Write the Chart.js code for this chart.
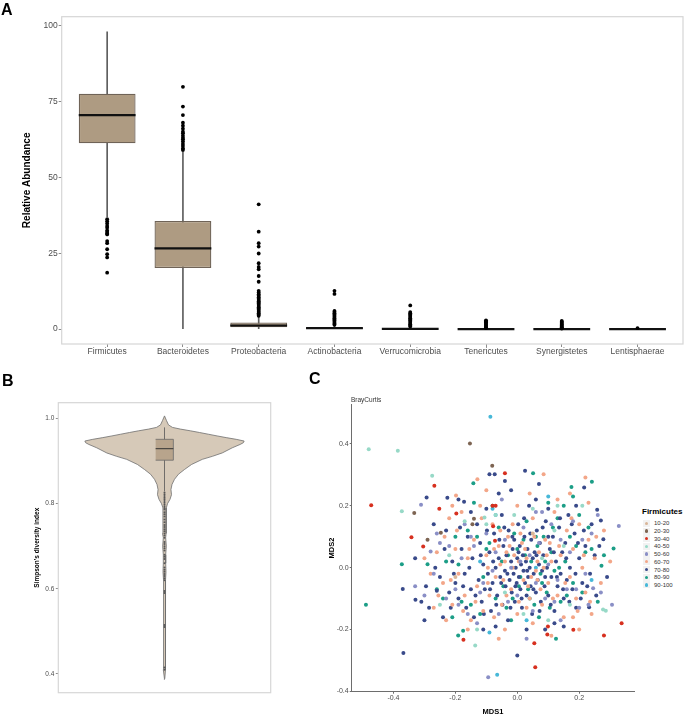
<!DOCTYPE html>
<html><head><meta charset="utf-8">
<script src="https://cdn.jsdelivr.net/npm/chart.js@4.4.1/dist/chart.umd.min.js"></script>
<style>
html,body{margin:0;padding:0;background:#fff;width:685px;height:715px;overflow:hidden;font-family:"Liberation Sans",Arial,sans-serif;}
canvas{position:absolute;}
.abs{position:absolute;white-space:nowrap;}
.letter{font-weight:bold;font-size:16px;line-height:16px;color:#000;}
</style></head><body>
<canvas id="cA" width="685" height="362" style="left:0;top:0"></canvas>
<canvas id="cB" width="300" height="320" style="left:0;top:390px"></canvas>
<canvas id="cC" width="335" height="330" style="left:300px;top:390px"></canvas>
<div class="abs letter" style="left:1px;top:2px">A</div>
<div class="abs letter" style="left:2px;top:373px">B</div>
<div class="abs letter" style="left:309px;top:371px">C</div>
<div class="abs" style="left:351px;top:395.5px;font-size:6.5px;line-height:7px;color:#333">BrayCurtis</div>
<div id="legC"></div>
<script>
// ---------------- Panel A data ----------------
const phylaA = ['Firmicutes','Bacteroidetes','Proteobacteria','Actinobacteria','Verrucomicrobia','Tenericutes','Synergistetes','Lentisphaerae'];
const q1A = [61.2, 20.1, 0.6, 0.05, 0, 0, 0, 0];
const medA = [70.5, 26.6, 1.2, 0.3, 0.05, 0.02, 0.01, 0];
const q3A = [77.5, 35.6, 2.2, 0.55, 0.25, 0.05, 0.04, 0.01];
const whiskLoA = [37, 0, 0, 0, 0, 0, 0, 0];
const whiskHiA = [97.9, 58.3, 4.2, 1.2, 0.6, 0.1, 0.1, 0.02];
const outFirmicutes = [36.2, 35.5, 34.8, 34, 33.4, 32.5, 32, 31.5, 31.2, 29, 28.3, 26.3, 24.7, 23.6, 18.6];
const outBacteroidetes = [79.8, 73.3, 70.5, 68, 67, 66, 65, 64.5, 63.7, 63, 62.5, 61.8, 61, 60.3, 59.5, 59];
const outProteobacteria = [41.1, 32.1, 28.3, 27.2, 24.9, 21.7, 20.5, 19.7, 17.5, 15.6, 12.6, 12.1, 11.5, 11, 10.5, 10, 9.6, 9.2, 8.8, 8.4, 8, 7.6, 7.2, 6.8, 6.4, 6, 5.6, 5.2, 4.8, 4.4];
const outActinobacteria = [12.6, 11.6, 6, 5.6, 5.2, 4.8, 4.4, 4, 3.6, 3.2, 2.8, 2.4, 2, 1.7, 1.4];
const outVerrucomicrobia = [7.8, 5.6, 5.2, 4.8, 4.4, 4.0, 3.6, 3.2, 2.8, 2.4, 2.0, 1.6, 1.2, 0.9];
const outTenericutes = [2.9, 2.6, 2.3, 2.0, 1.7, 1.4, 1.1, 0.8, 0.5, 0.3];
const outSynergistetes = [2.7, 2.4, 2.1, 1.8, 1.5, 1.2, 0.9, 0.6, 0.35, 0.2];
const outLentisphaerae = [0.3];
const outliersA = [outFirmicutes, outBacteroidetes, outProteobacteria, outActinobacteria, outVerrucomicrobia, outTenericutes, outSynergistetes, outLentisphaerae];
const yTicksA = [0, 25, 50, 75, 100];

// ---------------- Panel B data ----------------
const violinY = [1.006, 0.995, 0.985, 0.979, 0.975, 0.971, 0.967, 0.963, 0.959, 0.955, 0.951, 0.947, 0.943, 0.939, 0.931, 0.919, 0.911, 0.904, 0.892, 0.88, 0.869, 0.857, 0.845, 0.833, 0.821, 0.81, 0.80, 0.79, 0.78, 0.76, 0.74, 0.73, 0.72, 0.70, 0.68, 0.66, 0.64, 0.62, 0.59, 0.55, 0.51, 0.47, 0.41, 0.39, 0.387];
const violinDensity = [0, 0.025, 0.05, 0.1, 0.2, 0.325, 0.44, 0.55, 0.66, 0.775, 0.9, 1, 0.99, 0.95, 0.85, 0.725, 0.6, 0.475, 0.34, 0.25, 0.175, 0.125, 0.094, 0.081, 0.088, 0.069, 0.038, 0.023, 0.019, 0.019, 0.019, 0.025, 0.015, 0.023, 0.015, 0.015, 0.019, 0.013, 0.015, 0.01, 0.015, 0.008, 0.015, 0.004, 0];
const boxStatsB = {q1: 0.902, median: 0.929, q3: 0.951, whiskLo: 0.829, whiskHi: 0.979};
const outB = [0.826, 0.822, 0.818, 0.814, 0.81, 0.806, 0.802, 0.798, 0.794, 0.79, 0.786, 0.78, 0.775, 0.77, 0.763, 0.756, 0.75, 0.745, 0.74, 0.735, 0.73, 0.725, 0.72, 0.71, 0.705, 0.70, 0.695, 0.69, 0.68, 0.675, 0.67, 0.66, 0.65, 0.645, 0.64, 0.635, 0.63, 0.625, 0.62, 0.595, 0.59, 0.515, 0.51, 0.415, 0.41];
const yTicksB = [0.4, 0.6, 0.8, 1.0];

// ---------------- Panel C data ----------------
const binLabels = ['10-20','20-30','30-40','40-50','50-60','60-70','70-80','80-90','90-100'];
const pts10_20 = [[-0.2,-0.03],[0.05,0.11]];
const pts20_30 = [[-0.153,0.401],[-0.081,0.329],[-0.333,0.177],[-0.247,0.113],[-0.29,0.09],[-0.145,0.14],[-0.14,0.158]];
const pts30_40 = [[-0.04,0.305],[-0.268,0.265],[-0.472,0.202],[-0.252,0.19],[-0.197,0.175],[-0.342,0.098],[-0.304,0.068],[-0.174,-0.233],[0.055,-0.244],[0.058,-0.322],[0.099,-0.19],[0.097,-0.216],[0.181,-0.201],[0.28,-0.219],[0.337,-0.18],[-0.08,0.2],[-0.07,0.2],[-0.078,0.134],[-0.072,0.087]];
const pts40_50 = [[-0.48,0.383],[-0.386,0.378],[-0.275,0.297],[-0.373,0.182],[-0.136,-0.252],[0.277,-0.135],[0.286,-0.139],[-0.106,0.162],[-0.25,-0.12],[-0.22,0.04],[-0.17,0.15],[-0.13,-0.2],[-0.1,0.14],[-0.07,0.17],[-0.04,-0.08],[-0.01,0.17],[0.02,-0.15],[0.05,0.19],[0.08,0.03],[0.1,-0.17],[0.12,0.12],[0.15,0.07],[0.17,-0.12],[0.21,0.2],[0.13,0.2]];
const pts50_60 = [[-0.311,0.203],[-0.28,0.052],[-0.094,-0.354],[0.328,0.135],[0.306,-0.12],[0.245,-0.067],[-0.33,-0.06],[-0.3,-0.09],[-0.27,-0.02],[-0.25,0.08],[-0.23,-0.1],[-0.2,-0.07],[-0.18,0.03],[-0.16,-0.15],[-0.14,0.07],[-0.12,-0.08],[-0.1,0.11],[-0.08,-0.01],[-0.06,-0.15],[-0.04,0.09],[-0.02,0.0],[0.0,-0.09],[0.02,0.13],[0.04,0.04],[0.06,-0.05],[0.08,0.18],[0.1,0.01],[0.12,-0.11],[0.14,0.09],[0.16,-0.07],[0.18,0.15],[0.2,-0.13],[0.22,-0.02],[0.24,0.11],[0.26,0.17],[-0.05,0.22],[0.03,-0.23],[0.14,-0.17],[-0.17,0.14],[-0.22,0.07],[-0.19,-0.12],[-0.15,0.1],[-0.11,-0.05],[-0.07,0.05],[-0.03,-0.11],[0.01,0.02],[0.05,-0.14],[0.07,0.08],[0.09,-0.1],[0.11,0.14],[0.13,-0.04],[0.17,0.05],[0.19,-0.07],[0.21,0.09],[0.23,-0.12],[-0.26,0.11],[-0.13,-0.18],[0.06,0.18],[0.27,-0.08]];
const pts60_70 = [[-0.129,0.286],[0.22,0.291],[0.085,0.302],[-0.198,0.233],[-0.27,-0.13],[-0.26,0.05],[-0.24,-0.05],[-0.22,0.16],[-0.21,-0.12],[-0.2,0.06],[-0.19,-0.02],[-0.18,0.18],[-0.17,-0.09],[-0.16,0.03],[-0.15,-0.17],[-0.14,0.09],[-0.13,-0.06],[-0.12,0.2],[-0.11,-0.14],[-0.1,0.04],[-0.09,-0.09],[-0.08,0.14],[-0.07,-0.03],[-0.06,0.07],[-0.05,-0.12],[-0.04,0.02],[-0.03,0.1],[-0.02,-0.07],[-0.01,0.04],[0.0,-0.15],[0.01,0.11],[0.02,-0.04],[0.03,0.03],[0.04,-0.1],[0.05,0.16],[0.06,-0.01],[0.07,0.05],[0.08,-0.12],[0.09,0.09],[0.1,-0.05],[0.11,0.02],[0.12,0.18],[0.13,-0.09],[0.14,0.04],[0.15,-0.16],[0.16,0.12],[0.17,-0.03],[0.18,0.06],[0.19,-0.1],[0.2,0.14],[0.21,0.0],[0.22,-0.08],[0.23,0.09],[0.24,-0.15],[0.25,0.03],[-0.035,0.05],[-0.015,0.0],[0.005,0.02],[0.025,0.06],[0.045,-0.03],[0.065,0.02],[-0.055,0.01],[-0.075,0.06],[0.085,0.0],[0.105,0.08],[-0.095,-0.05],[0.0,0.2],[-0.04,-0.2],[0.05,-0.18],[0.13,0.22],[-0.1,0.25],[0.17,0.24],[-0.28,-0.02],[0.27,-0.05],[0.28,0.12],[-0.23,-0.17],[0.2,-0.2],[-0.255,-0.09],[-0.235,0.1],[-0.215,-0.04],[-0.195,0.12],[-0.175,-0.14],[-0.155,0.06],[-0.135,-0.11],[-0.115,0.16],[-0.095,0.0],[-0.075,-0.16],[-0.055,0.12],[-0.035,-0.09],[-0.015,0.14],[0.005,-0.11],[0.015,0.08],[0.035,-0.06],[0.055,0.1],[0.075,-0.07],[0.095,0.04],[0.115,-0.1],[0.135,0.07],[0.155,-0.05],[0.175,0.16],[0.195,-0.14],[0.215,0.04],[0.235,-0.11],[0.255,0.1],[-0.3,0.03],[0.3,0.02],[-0.21,0.2],[0.23,0.21],[-0.06,-0.23],[0.11,-0.22],[-0.16,-0.2],[0.04,0.24],[0.18,-0.16],[0.03,-0.13],[-0.045,-0.04],[0.065,-0.04],[-0.025,0.07]];
const pts70_80 = [[-0.37,-0.069],[-0.329,-0.104],[-0.368,-0.276],[0,-0.284],[-0.293,0.227],[-0.226,0.226],[-0.172,0.213],[-0.09,0.302],[-0.073,0.302],[0.025,0.313],[0.216,0.259],[0.278,0.092],[0.258,0.187],[0.27,0.152],[0.232,-0.128],[-0.31,-0.11],[-0.295,-0.06],[-0.26,-0.075],[-0.25,-0.03],[-0.24,-0.16],[-0.22,-0.08],[-0.21,0.02],[-0.2,-0.05],[-0.19,-0.1],[-0.18,0.06],[-0.17,-0.02],[-0.165,-0.13],[-0.16,0.1],[-0.15,-0.07],[-0.145,0.03],[-0.14,-0.16],[-0.13,0.14],[-0.125,-0.04],[-0.12,0.08],[-0.115,-0.11],[-0.11,0.01],[-0.105,-0.07],[-0.1,0.19],[-0.095,-0.02],[-0.09,0.05],[-0.085,-0.14],[-0.08,-0.05],[-0.075,0.11],[-0.07,0.0],[-0.065,-0.09],[-0.06,0.03],[-0.055,-0.03],[-0.05,0.17],[-0.048,-0.12],[-0.045,0.07],[-0.04,-0.01],[-0.038,-0.06],[-0.035,0.04],[-0.03,-0.17],[-0.028,0.12],[-0.025,-0.04],[-0.02,0.02],[-0.018,-0.08],[-0.015,0.06],[-0.012,-0.02],[-0.01,0.09],[-0.008,-0.11],[-0.005,0.0],[-0.002,-0.05],[0.0,0.03],[0.003,0.14],[0.005,-0.03],[0.008,0.07],[0.01,-0.07],[0.012,0.01],[0.015,-0.13],[0.018,0.04],[0.02,-0.01],[0.023,0.1],[0.025,-0.05],[0.028,0.02],[0.03,-0.09],[0.033,0.06],[0.035,-0.03],[0.038,0.2],[0.04,0.0],[0.043,-0.06],[0.045,0.09],[0.048,-0.15],[0.05,0.03],[0.053,-0.02],[0.056,0.05],[0.06,-0.08],[0.063,0.12],[0.066,-0.04],[0.07,0.01],[0.073,0.08],[0.076,-0.11],[0.08,-0.01],[0.084,0.04],[0.088,-0.06],[0.092,0.15],[0.096,0.0],[0.1,-0.09],[0.105,0.06],[0.11,-0.03],[0.115,0.1],[0.12,-0.14],[0.125,0.02],[0.13,-0.06],[0.135,0.13],[0.14,-0.02],[0.145,0.05],[0.15,-0.1],[0.155,0.08],[0.16,-0.04],[0.165,0.17],[0.17,0.0],[0.178,-0.07],[0.185,0.11],[0.19,-0.13],[0.2,0.03],[0.21,-0.05],[0.22,0.07],[0.235,-0.02],[0.25,0.04],[-0.06,0.24],[-0.02,0.25],[0.06,0.22],[0.1,0.19],[-0.15,0.18],[-0.23,0.12],[0.12,-0.18],[-0.07,-0.19],[0.03,-0.2],[-0.285,-0.13],[-0.265,0.0],[-0.235,0.06],[-0.215,-0.13],[-0.205,-0.02],[-0.185,0.13],[-0.175,-0.06],[-0.155,0.0],[-0.135,-0.09],[-0.118,0.04],[-0.108,-0.15],[-0.098,0.12],[-0.088,-0.07],[-0.078,0.02],[-0.068,-0.12],[-0.058,0.09],[-0.052,-0.05],[-0.042,0.13],[-0.032,-0.02],[-0.022,-0.13],[-0.016,0.1],[-0.006,-0.06],[0.004,0.05],[0.014,-0.1],[0.022,0.16],[0.032,-0.01],[0.042,0.11],[0.052,-0.07],[0.062,0.04],[0.072,-0.14],[0.082,0.13],[0.09,-0.03],[0.1,0.1],[0.108,-0.12],[0.118,0.05],[0.128,-0.03],[0.138,0.16],[0.148,-0.07],[0.158,0.03],[0.168,-0.11],[0.176,0.14],[0.188,-0.02],[0.196,0.08],[0.205,-0.1],[0.215,0.12],[0.226,-0.06],[0.24,0.14],[0.255,-0.09],[0.265,0.07],[-0.33,0.03],[-0.3,-0.17],[-0.27,0.14],[-0.19,0.22],[-0.11,-0.2],[0.09,-0.2],[0.19,0.2],[0.29,-0.03],[-0.04,0.28],[0.07,0.27],[0.15,-0.19]];
const pts80_90 = [[0.051,0.305],[-0.142,0.273],[0.241,0.278],[0.175,0.261],[-0.373,0.011],[-0.29,0.011],[-0.489,-0.12],[-0.191,-0.219],[-0.175,-0.204],[0.125,-0.23],[0.311,0.062],[0.272,0.006],[-0.24,-0.1],[-0.21,-0.16],[-0.19,0.01],[-0.15,-0.12],[-0.13,0.1],[-0.11,-0.03],[-0.09,0.08],[-0.07,-0.1],[-0.06,0.13],[-0.045,-0.06],[-0.03,0.04],[-0.015,-0.1],[0.0,0.06],[0.01,-0.03],[0.02,0.09],[0.035,-0.07],[0.045,0.02],[0.055,-0.12],[0.065,0.07],[0.075,-0.02],[0.085,0.1],[0.095,-0.08],[0.11,0.05],[0.12,-0.01],[0.13,0.16],[0.14,-0.11],[0.155,0.02],[0.17,0.1],[0.18,-0.05],[0.2,0.17],[0.22,0.05],[0.24,0.06],[0.15,0.2],[0.1,0.21],[-0.08,0.2],[-0.02,-0.17],[0.07,-0.16],[-0.2,0.1],[0.26,-0.11],[0.03,0.15],[-0.23,0.02],[-0.18,-0.11],[-0.16,0.12],[-0.12,-0.15],[-0.1,0.06],[-0.05,0.02],[-0.035,-0.13],[-0.01,0.11],[0.005,-0.06],[0.025,0.04],[0.04,-0.1],[0.06,0.1],[0.08,-0.05],[0.09,0.02],[0.105,-0.13],[0.115,0.13],[0.135,0.0],[0.16,-0.09],[0.19,0.07],[0.21,-0.08],[0.23,0.13],[-0.14,0.21],[0.18,0.23],[-0.26,-0.07],[0.28,0.04]];
const pts90_100 = [[-0.087,0.488],[-0.065,-0.346],[-0.08,0.19],[-0.09,-0.21],[0.03,-0.17],[0.1,0.23],[-0.12,0.02],[0.06,0.0],[-0.07,0.17],[0.24,-0.04]];
const seriesC = [pts10_20, pts20_30, pts30_40, pts40_50, pts50_60, pts60_70, pts70_80, pts80_90, pts90_100];
const xTicksC = [-0.4, -0.2, 0.0, 0.2];
const yTicksC = [-0.4, -0.2, 0.0, 0.2, 0.4];

// ---------------- styles ----------------
const FONT = "'Liberation Sans', Arial, sans-serif";
Chart.defaults.font.family = FONT;
const TICK_COL = '#4d4d4d';
const binColors = ['#d8b598','#7d6452','#d7301f','#97d9c7','#8a8fc6','#f3a688','#394a8a','#1c9e87','#47b8d8'];

const framePlugin = {
  id: 'frame',
  beforeDatasetsDraw(chart) {
    const {ctx, chartArea: a} = chart;
    ctx.save();
    ctx.strokeStyle = '#d6d6d6';
    ctx.lineWidth = 1.2;
    ctx.strokeRect(a.left, a.top, a.right - a.left, a.bottom - a.top);
    ctx.restore();
  }
};

const baseOpts = {
  responsive: false, animation: false, devicePixelRatio: 1, events: [],
  plugins: {legend: {display: false}, tooltip: {enabled: false}, title: {display: false}}
};

// ---------------- Chart A ----------------
const outPtsA = [];
outliersA.forEach((arr, i) => arr.forEach(v => outPtsA.push({x: i + 1, y: v})));
new Chart(document.getElementById('cA'), {
  type: 'bar',
  data: {
    datasets: [
      {type: 'bar', data: phylaA.map((p, i) => ({x: i + 1, y: [whiskLoA[i], whiskHiA[i]]})),
       backgroundColor: '#5e5e5e', borderWidth: 0, barThickness: 1, grouped: false, order: 4},
      {type: 'bar', data: phylaA.map((p, i) => ({x: i + 1, y: [q1A[i], q3A[i]]})),
       backgroundColor: '#ae9b82', borderColor: '#6f6357', borderWidth: 1.3, borderSkipped: false,
       barPercentage: 0.75, categoryPercentage: 1, grouped: false, order: 3},
      {type: 'line', data: phylaA.map((p, i) => ({x: i + 1, y: medA[i]})), showLine: false,
       pointStyle: 'line', pointRadius: 28.4, pointBorderWidth: 2.2, pointBorderColor: '#111', order: 2},
      {type: 'line', data: outPtsA, showLine: false, pointStyle: 'circle', pointRadius: 1.9,
       pointBackgroundColor: '#000', pointBorderWidth: 0, order: 1}
    ]
  },
  options: Object.assign({}, baseOpts, {
    layout: {autoPadding: false, padding: {top: 16.7, right: 2, left: 0, bottom: 0}},
    scales: {
      x: {type: 'linear', min: 0.4, max: 8.6, offset: false,
          afterBuildTicks(s) { s.ticks = phylaA.map((p, i) => ({value: i + 1})); },
          afterFit(s) { s.height = 18; },
          grid: {display: true, drawOnChartArea: false, offset: false, tickLength: 3, color: '#8c8c8c'},
          border: {display: false},
          ticks: {callback: v => phylaA[Math.round(v) - 1], font: {size: 8.5}, color: TICK_COL, padding: 0, maxRotation: 0, autoSkip: false}},
      y: {type: 'linear', min: -4.9, max: 102.9,
          afterBuildTicks(s) { s.ticks = yTicksA.map(v => ({value: v})); },
          afterFit(s) { s.width = 61.7; },
          grid: {display: true, drawOnChartArea: false, tickLength: 3, color: '#8c8c8c'},
          border: {display: false},
          ticks: {font: {size: 8.5}, color: TICK_COL, padding: 1},
          title: {display: true, text: 'Relative Abundance', font: {size: 10, weight: 'bold'}, color: '#000', padding: {top: 21, bottom: 0}}}
    }
  }),
  plugins: [framePlugin]
});

// ---------------- Chart B ----------------
const VIOLIN_HALF = 0.45, BOX_HALF = 0.05;
const violinPoly = [];
violinY.forEach((y, i) => violinPoly.push({x: violinDensity[i] * VIOLIN_HALF, y}));
for (let i = violinY.length - 1; i >= 0; i--) violinPoly.push({x: -violinDensity[i] * VIOLIN_HALF, y: violinY[i]});
const boxPoly = [
  {x: -BOX_HALF, y: boxStatsB.q1}, {x: BOX_HALF, y: boxStatsB.q1},
  {x: BOX_HALF, y: boxStatsB.q3}, {x: -BOX_HALF, y: boxStatsB.q3}
];
new Chart(document.getElementById('cB'), {
  type: 'line',
  data: {
    datasets: [
      {data: violinPoly, fill: 'shape', backgroundColor: '#d6c9b8', borderColor: '#6e6e6e', borderWidth: 0.8, pointRadius: 0, tension: 0, order: 5},
      {data: [{x: 0, y: boxStatsB.whiskLo}, {x: 0, y: boxStatsB.whiskHi}], borderColor: '#555', borderWidth: 0.8, pointRadius: 0, fill: false, order: 4},
      {data: boxPoly, fill: 'shape', backgroundColor: '#b8a48c', borderColor: '#6b6b6b', borderWidth: 0.8, pointRadius: 0, tension: 0, order: 3},
      {data: [{x: -BOX_HALF, y: boxStatsB.median}, {x: BOX_HALF, y: boxStatsB.median}], borderColor: '#333', borderWidth: 1, pointRadius: 0, fill: false, order: 2},
      {data: outB.map(v => ({x: 0, y: v})), showLine: false, pointRadius: 1, pointBackgroundColor: '#555', pointBorderWidth: 0, order: 1}
    ]
  },
  options: Object.assign({}, baseOpts, {
    layout: {autoPadding: false, padding: {top: 12.7, right: 29.3, left: 0, bottom: 17.3}},
    scales: {
      x: {type: 'linear', min: -0.6, max: 0.6, display: false},
      y: {type: 'linear', min: 0.356, max: 1.037,
          afterBuildTicks(s) { s.ticks = yTicksB.map(v => ({value: v})); },
          afterFit(s) { s.width = 58.3; },
          grid: {display: true, drawOnChartArea: false, tickLength: 2.5, color: '#8c8c8c'},
          border: {display: false},
          ticks: {font: {size: 6.5}, color: TICK_COL, padding: 1.5, callback: v => v.toFixed(1)},
          title: {display: true, text: "Simpson's diversity index", font: {size: 6.5, weight: 'bold'}, color: '#000', padding: {top: 33, bottom: 0}}}
    }
  }),
  plugins: [framePlugin]
});

// ---------------- Chart C ----------------
new Chart(document.getElementById('cC'), {
  type: 'scatter',
  data: {
    datasets: seriesC.map((pts, i) => ({
      label: binLabels[i],
      data: pts.map(p => ({x: p[0], y: p[1]})),
      pointRadius: 2, pointBorderWidth: 0, backgroundColor: binColors[i], pointBackgroundColor: binColors[i]
    }))
  },
  options: Object.assign({}, baseOpts, {
    layout: {autoPadding: false, padding: {top: 14.3, right: 0.7, left: 0, bottom: 0}},
    scales: {
      x: {type: 'linear', min: -0.535, max: 0.378,
          afterBuildTicks(s) { s.ticks = xTicksC.map(v => ({value: v})); },
          afterFit(s) { s.height = 28.3; },
          grid: {display: true, drawOnChartArea: false, tickLength: 2, color: '#6d6d6d'},
          border: {display: true, color: '#6d6d6d', width: 1},
          ticks: {font: {size: 7}, color: TICK_COL, padding: 0, callback: v => v.toFixed(1)},
          title: {display: true, text: 'MDS1', font: {size: 7.5, weight: 'bold'}, color: '#000', padding: {top: 0, bottom: 3.8}}},
      y: {type: 'linear', min: -0.401, max: 0.528,
          afterBuildTicks(s) { s.ticks = yTicksC.map(v => ({value: v})); },
          afterFit(s) { s.width = 51.7; },
          grid: {display: true, drawOnChartArea: false, tickLength: 2, color: '#6d6d6d'},
          border: {display: true, color: '#6d6d6d', width: 1},
          ticks: {font: {size: 7}, color: TICK_COL, padding: 1, callback: v => v.toFixed(1)},
          title: {display: true, text: 'MDS2', font: {size: 7.5, weight: 'bold'}, color: '#000', padding: {top: 27.2, bottom: 0}}}
    }
  })
});

// ---------------- Legend C (HTML) ----------------
(function () {
  const host = document.getElementById('legC');
  let html = '<div class="abs" style="left:642px;top:507px;font-size:8px;line-height:10px;font-weight:bold;color:#000">Firmicutes</div>';
  binLabels.forEach((lab, i) => {
    const cy = 523.3 + i * 7.7;
    html += '<div class="abs" style="left:643px;top:' + (cy - 3.5) + 'px;width:7px;height:7px;background:#f2f2f2"></div>';
    html += '<div class="abs" style="left:645px;top:' + (cy - 1.7) + 'px;width:3.4px;height:3.4px;border-radius:50%;background:' + binColors[i] + '"></div>';
    html += '<div class="abs" style="left:654px;top:' + (cy - 4) + 'px;font-size:6px;line-height:8px;color:#333">' + lab + '</div>';
  });
  host.innerHTML = html;
})();
</script>
</body></html>
